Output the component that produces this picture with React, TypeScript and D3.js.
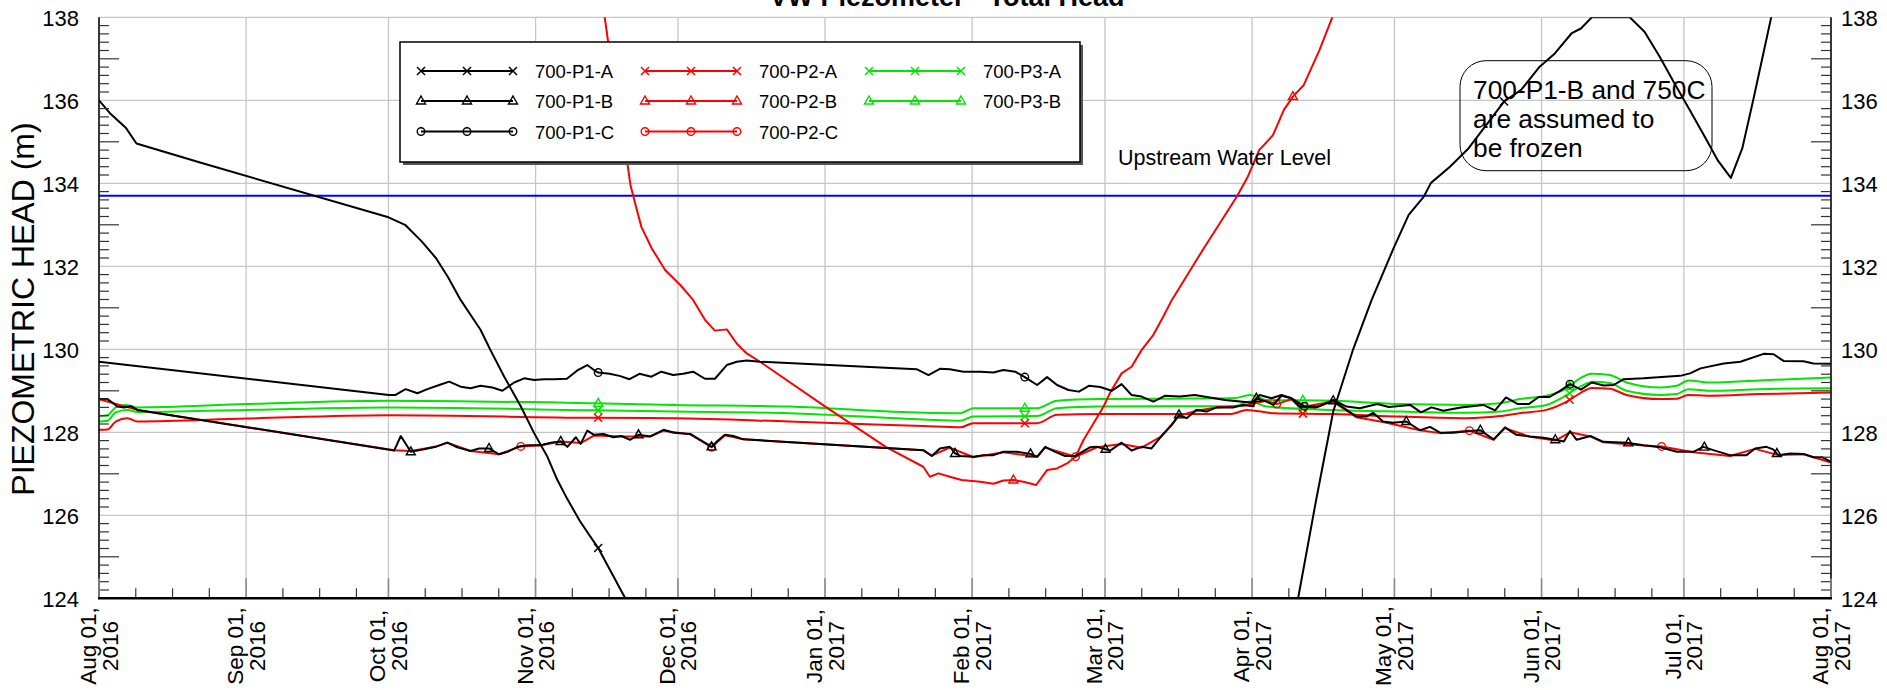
import React from "react";
import * as d3 from "d3";

const W = 1887;
const H = 690;
const PL = 99, PR = 1831, PT = 17.3, PB = 598.3;
const DAY = 86400000;
const START = Date.UTC(2016, 7, 1);
const END = Date.UTC(2017, 7, 1);
const FONT = "'Liberation Sans', Arial, Helvetica, sans-serif";

type Pt = [number, number]; // [days since Aug 01 2016, head (m)]

const Y_TICKS = [124, 126, 128, 130, 132, 134, 136, 138];
const UPSTREAM_LEVEL = 133.7;
const TITLE = "VW Piezometer - Total Head";
const Y_TITLE = "PIEZOMETRIC HEAD (m)";
const NOTE_LINES = ["700-P1-B and 750C", "are assumed to", "be frozen"];

const P1A: Pt[] = [
  [0, 136.0], [2.3, 135.69], [5.7, 135.33], [7.9, 134.96], [21.3, 134.5], [61, 133.18], [64.5, 133.0], [68, 132.6],
  [71, 132.2], [73.5, 131.75], [76.2, 131.19], [80.4, 130.47], [82.5, 129.98], [85.4, 129.34], [88.9, 128.62],
  [91.7, 127.98], [94.5, 127.41], [96.6, 126.85], [98.7, 126.39], [101.4, 125.85], [105.2, 125.21], [110.9, 124.0],
  [252.7, 124.0], [256.5, 126.37], [260.1, 128.5], [264.3, 130.0], [268.2, 131.19], [272.8, 132.43], [276, 133.24],
  [279.2, 133.68], [280.7, 134.01], [284.7, 134.4], [288.6, 134.84], [296.1, 135.97], [299.7, 136.25], [303.6, 136.81],
  [306.8, 137.13], [310.3, 137.61], [312.3, 137.73], [314.6, 138.0], [322.6, 138.0], [325.7, 137.65], [328.9, 137.05],
  [332, 136.41], [335.2, 135.77], [338.4, 135.12], [341.1, 134.56], [343.9, 134.13], [346.3, 134.84], [348.6, 136.0],
  [352.4, 138.0], [355, 139.2],
];
const P1A_MARKS = [105.2, 296.1];

const P1B: Pt[] = [
  [0, 128.8], [1.8, 128.8], [3.9, 128.62], [5.3, 128.6], [6.7, 128.63], [8.1, 128.54], [62.2, 127.56], [63.6, 127.91],
  [65.7, 127.53], [68.5, 127.59], [70.9, 127.65], [73.4, 127.75], [75.5, 127.64], [78.3, 127.55], [80.1, 127.61],
  [82.2, 127.61], [84.3, 127.47], [86.1, 127.53], [88.2, 127.65], [90.3, 127.69], [93.1, 127.69], [95.2, 127.75],
  [97.3, 127.78], [98.7, 127.65], [100.5, 127.88], [101.5, 127.72], [102.9, 128.04], [104.3, 127.94], [106.3, 127.96],
  [108.4, 127.88], [110.1, 127.91], [111.9, 127.82], [113.7, 127.94], [116.2, 127.9], [119.0, 128.06], [121.1, 127.99],
  [124.6, 127.96], [126.7, 127.82], [129.1, 127.65], [130.2, 127.78], [131.9, 127.94], [133.7, 127.91], [135.8, 127.83],
  [173.7, 127.57], [175.5, 127.43], [177.2, 127.61], [179.3, 127.65], [180.4, 127.49], [181.5, 127.43], [184.3, 127.41],
  [186.4, 127.45], [188.5, 127.45], [190.6, 127.53], [193.4, 127.53], [196.3, 127.48], [197.7, 127.41], [199.4, 127.65],
  [201.5, 127.53], [203.6, 127.43], [205.8, 127.43], [207.2, 127.53], [208.9, 127.64], [210.3, 127.65], [213.1, 127.56],
  [215.5, 127.75], [217.6, 127.56], [219.7, 127.65], [221.8, 127.61], [223.9, 127.91], [226.1, 128.18], [227.6, 128.42],
  [229.2, 128.34], [231.3, 128.54], [233.4, 128.5], [235.5, 128.6], [239.1, 128.6], [241.1, 128.66], [243.3, 128.63],
  [243.9, 128.82], [246.0, 128.74], [247.5, 128.66], [249.2, 128.88], [251.3, 128.82], [253.0, 128.62], [256.5, 128.6],
  [260.1, 128.76], [262.9, 128.54], [265.0, 128.38], [267.1, 128.38], [268.5, 128.47], [270.6, 128.26], [272.7, 128.23],
  [275.5, 128.26], [278.4, 128.05], [280.5, 128.13], [282.6, 127.99], [285.4, 127.99], [288.9, 128.03], [291.1, 128.05],
  [293.9, 127.83], [296.3, 128.12], [298.7, 127.94], [301.6, 127.9], [304.4, 127.87], [306.9, 127.82], [308.7, 127.78],
  [310.0, 128.03], [311.4, 127.82], [314.3, 127.91], [317.0, 127.77], [322.0, 127.75], [325.5, 127.69], [329.0, 127.64],
  [332.5, 127.53], [336.0, 127.53], [338.1, 127.65], [340.2, 127.57], [343.7, 127.45], [347.2, 127.45], [349.0, 127.61],
  [351.4, 127.65], [352.8, 127.59], [353.9, 127.45], [356.4, 127.49], [359.2, 127.48], [361.3, 127.4], [363.1, 127.4],
  [365, 127.29],
];
const P1B_MARKS = [65.7, 82.2, 97.3, 113.7, 129.1, 180.4, 196.3, 212.1, 227.6, 243.9, 260.1, 275.5, 291.1, 306.9, 322.3, 338.3, 353.6];

const P1C: Pt[] = [
  [0, 129.7], [61.1, 128.9], [62.5, 128.9], [64.6, 129.04], [67.1, 128.94], [69.2, 129.04], [71.7, 129.14], [73.8, 129.22],
  [76.2, 129.1], [78.3, 129.06], [80.4, 129.12], [82.9, 129.08], [85.0, 129.0], [87.5, 129.2], [89.6, 129.3], [91.7, 129.26],
  [93.8, 129.28], [95.9, 129.28], [98.6, 129.29], [100.8, 129.49], [102.9, 129.62], [104.3, 129.5], [105.2, 129.44],
  [107.6, 129.41], [109.7, 129.36], [111.8, 129.28], [113.9, 129.41], [116.4, 129.34], [118.5, 129.46], [121.0, 129.38],
  [123.1, 129.41], [125.2, 129.46], [127.7, 129.29], [129.8, 129.29], [132.3, 129.62], [134.4, 129.7], [136.5, 129.73],
  [139.3, 129.7], [172.3, 129.52], [174.8, 129.38], [177.2, 129.53], [179.3, 129.52], [182.2, 129.46], [185.7, 129.46],
  [188.5, 129.44], [190.6, 129.5], [193.1, 129.46], [195.1, 129.33], [197.7, 129.14], [199.8, 129.33], [201.9, 129.14],
  [204.3, 129.02], [206.5, 128.98], [208.6, 129.12], [211.0, 129.09], [213.4, 129.0], [215.5, 129.16], [217.6, 128.9],
  [219.7, 128.86], [222.2, 128.74], [224.6, 128.88], [227.8, 128.86], [230.9, 128.9], [234.1, 128.84], [237.3, 128.78],
  [240.5, 128.74], [243.0, 128.71], [244.6, 128.9], [247.1, 128.82], [249.2, 128.9], [251.3, 128.82], [254.0, 128.63],
  [257, 128.62], [260.1, 128.78], [262.9, 128.62], [265.7, 128.58], [269.4, 128.68], [271.8, 128.61], [276.3, 128.66],
  [278.6, 128.48], [280.8, 128.6], [283.3, 128.52], [287, 128.6], [291.7, 128.66], [294.2, 128.53], [296.5, 128.84],
  [299, 128.68], [301.3, 128.68], [303.4, 128.85], [305.6, 128.85], [307.9, 129.0], [310.0, 129.16], [312.3, 129.03],
  [314.6, 129.2], [317.1, 129.13], [319.2, 129.14], [321.3, 129.28], [325.5, 129.3], [333.2, 129.36], [335.3, 129.42],
  [337.5, 129.54], [342.4, 129.66], [345.9, 129.7], [350.8, 129.89], [352.9, 129.88], [355.0, 129.72], [359.2, 129.71],
  [361.3, 129.66], [365, 129.65],
];
const P1C_MARKS = [105.2, 195.1, 254.0, 310.0];

const P2A: Pt[] = [
  [0, 128.06], [1.8, 128.07], [3.5, 128.26], [6, 128.34], [8.1, 128.26], [31, 128.33], [61, 128.41], [104, 128.35],
  [121.1, 128.34], [145.4, 128.26], [173.7, 128.15], [181.5, 128.12], [184.3, 128.22], [197.7, 128.22], [201.9, 128.42],
  [211, 128.44], [238.4, 128.44], [241.9, 128.54], [247.5, 128.46], [260.1, 128.44], [274.2, 128.38], [288.2, 128.34],
  [295.2, 128.39], [299.4, 128.46], [305, 128.54], [309.3, 128.74], [312.1, 128.94], [314.6, 129.07], [318.4, 129.05],
  [321.9, 128.9], [329, 128.8], [332.5, 128.81], [334.9, 128.9], [339.5, 128.88], [350, 128.92], [365, 128.96],
];
const P2A_MARKS = [105.2, 195.1, 253.7, 309.9];

const P2B: Pt[] = [
  [106.2, 138.3], [107.3, 137.41], [111.3, 134.52], [112.0, 133.96], [112.8, 133.6], [114.3, 132.95], [116.5, 132.43],
  [119.3, 131.91], [122.5, 131.55], [125.2, 131.19], [127.7, 130.71], [129.8, 130.45], [132.3, 130.48], [134.4, 130.14],
  [136.5, 129.9], [139.3, 129.7], [152.9, 128.63], [165.8, 127.65], [173.7, 127.17], [175.1, 126.93], [176.9, 127.01],
  [179.3, 126.93], [181.8, 126.85], [185.7, 126.81], [188.5, 126.76], [190.6, 126.84], [192.7, 126.85], [194.8, 126.81],
  [197.5, 126.73], [199.8, 127.09], [201.9, 127.13], [204.0, 127.25], [205.8, 127.41], [207.5, 127.82], [209.6, 128.22],
  [211.7, 128.62], [213.1, 128.96], [215.5, 129.42], [217.6, 129.58], [219.7, 129.98], [222.2, 130.35], [224.3, 130.79],
  [226.1, 131.19], [232.8, 132.43], [239.8, 133.68], [242.1, 134.16], [244.5, 134.8], [247.4, 135.16], [249.7, 135.77],
  [251.6, 136.09], [253.9, 136.37], [257.2, 137.21], [259.9, 138.0], [261, 138.3],
];
const P2B_MARKS = [192.7, 251.6];

const P2C: Pt[] = [
  [0, 128.8], [8.1, 128.54], [62.2, 127.57], [65.7, 127.55], [70.9, 127.65], [73.4, 127.75], [78.3, 127.55], [84.3, 127.47],
  [88.9, 127.66], [93.1, 127.69], [97.3, 127.78], [101.5, 127.74], [104.3, 127.92], [110.1, 127.9], [116.2, 127.9],
  [119, 128.04], [124.6, 127.95], [129.1, 127.64], [131.9, 127.93], [135.8, 127.83], [173.7, 127.57], [175.5, 127.44],
  [179.3, 127.63], [184.3, 127.4], [190.6, 127.52], [197.7, 127.41], [199.4, 127.63], [205.8, 127.41], [210.3, 127.64],
  [215.5, 127.72], [219.7, 127.63], [223.9, 127.9], [227.6, 128.4], [231.3, 128.52], [235.5, 128.6], [241.1, 128.64],
  [246, 128.76], [248.2, 128.68], [251.3, 128.8], [253, 128.6], [260.1, 128.74], [265, 128.36], [270.6, 128.25],
  [278.4, 128.05], [282.6, 127.98], [288.8, 128.04], [293.9, 127.82], [296.3, 128.1], [301.6, 127.89], [306.9, 127.8],
  [310, 128.0], [314.3, 127.9], [317, 127.76], [325.5, 127.68], [329.3, 127.66], [336, 127.52], [343.7, 127.43],
  [349, 127.6], [353.9, 127.45], [359.2, 127.47], [365, 127.27],
];
const P2C_MARKS = [88.9, 129.1, 205.8, 248.2, 288.8, 329.3];

const P3A: Pt[] = [
  [0, 128.26], [1.8, 128.28], [3.5, 128.48], [6, 128.54], [8.1, 128.49], [31, 128.54], [61, 128.6], [104, 128.53],
  [121.1, 128.5], [145.4, 128.46], [173.7, 128.31], [181.5, 128.28], [184.3, 128.38], [197.7, 128.39], [201.9, 128.58],
  [211, 128.62], [239.1, 128.63], [242.6, 128.74], [246.1, 128.62], [260.1, 128.54], [274.2, 128.5], [288.2, 128.47],
  [295.2, 128.5], [299.4, 128.58], [305, 128.66], [309.3, 128.9], [312.1, 129.1], [314.9, 129.22], [318.4, 129.19],
  [321.9, 129.0], [329, 128.9], [332.5, 128.92], [334.9, 129.04], [339.5, 129.0], [350, 129.04], [365, 129.06],
];
const P3A_MARKS = [105.2, 195.1, 253.7, 309.9];

const P3B: Pt[] = [
  [0, 128.39], [1.8, 128.41], [3.5, 128.6], [5.6, 128.66], [8.1, 128.6], [31, 128.68], [61, 128.76], [104, 128.7],
  [121.1, 128.66], [145.4, 128.62], [173.7, 128.47], [181.5, 128.46], [184.3, 128.58], [197.7, 128.58], [201.9, 128.76],
  [211, 128.8], [239.1, 128.82], [242.6, 128.9], [246.1, 128.78], [260.1, 128.76], [274.2, 128.68], [288.2, 128.66],
  [295.2, 128.7], [299.4, 128.8], [305, 128.88], [309.3, 129.06], [312.1, 129.3], [314.6, 129.41], [318.4, 129.38],
  [321.9, 129.2], [329, 129.08], [332.5, 129.12], [334.9, 129.25], [339.5, 129.2], [350, 129.25], [365, 129.32],
];
const P3B_MARKS = [105.2, 195.1, 253.7, 309.9];

type Marker = "x" | "tri" | "circ";
interface Series { name: string; color: string; marker: Marker; data: Pt[]; marks: number[]; smooth: boolean; col: number; row: number; }

const BLACK = "#000000", RED = "#ff0000", GREEN = "#00e600";

const SERIES: Series[] = [
  { name: "700-P1-A", color: BLACK, marker: "x", data: P1A, marks: P1A_MARKS, smooth: false, col: 0, row: 0 },
  { name: "700-P1-B", color: BLACK, marker: "tri", data: P1B, marks: P1B_MARKS, smooth: false, col: 0, row: 1 },
  { name: "700-P1-C", color: BLACK, marker: "circ", data: P1C, marks: P1C_MARKS, smooth: false, col: 0, row: 2 },
  { name: "700-P2-A", color: RED, marker: "x", data: P2A, marks: P2A_MARKS, smooth: true, col: 1, row: 0 },
  { name: "700-P2-B", color: RED, marker: "tri", data: P2B, marks: P2B_MARKS, smooth: false, col: 1, row: 1 },
  { name: "700-P2-C", color: RED, marker: "circ", data: P2C, marks: P2C_MARKS, smooth: false, col: 1, row: 2 },
  { name: "700-P3-A", color: GREEN, marker: "x", data: P3A, marks: P3A_MARKS, smooth: true, col: 2, row: 0 },
  { name: "700-P3-B", color: GREEN, marker: "tri", data: P3B, marks: P3B_MARKS, smooth: true, col: 2, row: 1 },
];
const DRAW_ORDER = ["700-P3-B", "700-P3-A", "700-P2-C", "700-P2-A", "700-P2-B", "700-P1-C", "700-P1-B", "700-P1-A"];

const xScale = d3.scaleUtc().domain([new Date(START), new Date(END)]).range([PL, PR]);
const yScale = d3.scaleLinear().domain([124, 138]).range([PB, PT]);
const dayToDate = (d: number) => new Date(START + d * DAY);
const X = (d: number) => xScale(dayToDate(d));
const Y = (v: number) => yScale(v);

function valueAt(data: Pt[], day: number): number {
  const i = d3.bisector((p: Pt) => p[0]).left(data, day);
  if (i <= 0) return data[0][1];
  if (i >= data.length) return data[data.length - 1][1];
  const a = data[i - 1], b = data[i];
  const t = (day - a[0]) / (b[0] - a[0]);
  return a[1] + t * (b[1] - a[1]);
}

function MarkerGlyph({ type, x, y, color }: { type: Marker; x: number; y: number; color: string }) {
  if (type === "x") {
    const s = 4;
    return (
      <path d={`M${x - s},${y - s}L${x + s},${y + s}M${x - s},${y + s}L${x + s},${y - s}`} stroke={color} strokeWidth={1.5} fill="none" />
    );
  }
  if (type === "tri") {
    return (
      <path d={`M${x},${y - 5}L${x + 4.5},${y + 3}L${x - 4.5},${y + 3}Z`} stroke={color} strokeWidth={1.4} fill="none" />
    );
  }
  return <circle cx={x} cy={y} r={3.8} stroke={color} strokeWidth={1.4} fill="none" />;
}

export default function App() {
  const months = d3.utcMonth.range(new Date(START), new Date(END + DAY));
  const fmt1 = d3.utcFormat("%b %d,");
  const fmt2 = d3.utcFormat("%Y");

  const minorX: number[] = [];
  months.forEach((m, i) => {
    if (i === months.length - 1) return;
    const next = months[i + 1].getTime();
    for (let k = 1; k <= 3; k++) {
      const t = m.getTime() + k * 7.75 * DAY;
      if (t < next) minorX.push(xScale(new Date(t)));
    }
  });

  const yMinor: { v: number; len: number }[] = [];
  for (let i = 0; i <= 70; i++) {
    const r = Math.round((124 + i * 0.2) * 10) / 10;
    if (Math.abs(r - Math.round(r)) < 1e-6) {
      const n = Math.round(r);
      if (n % 2 === 0) continue;
      yMinor.push({ v: r, len: 20 });
    } else yMinor.push({ v: r, len: 10 });
  }

  const lineLinear = d3.line<Pt>().x((p) => X(p[0])).y((p) => Y(p[1]));
  const lineSmooth = d3.line<Pt>().x((p) => X(p[0])).y((p) => Y(p[1])).curve(d3.curveMonotoneX);

  const ordered = DRAW_ORDER.map((n) => SERIES.find((s) => s.name === n)!) as Series[];

  const legX0 = [421, 645, 869];
  const legRowY = [71, 101, 131.5];

  return (
    <svg width={W} height={H} style={{ position: "absolute", left: 0, top: 0, background: "#fff" }} fontFamily={FONT}>
      <defs>
        <clipPath id="plotClip">
          <rect x={PL} y={PT} width={PR - PL} height={PB - PT} />
        </clipPath>
      </defs>
      <rect x={0} y={0} width={W} height={H} fill="#fff" />

      {/* gridlines */}
      {months.map((m, i) => (
        <line key={"gx" + i} x1={xScale(m)} x2={xScale(m)} y1={PT} y2={PB} stroke="#c6c6c6" strokeWidth={1.3} />
      ))}
      {Y_TICKS.map((v) => (
        <line key={"gy" + v} x1={PL} x2={PR} y1={Y(v)} y2={Y(v)} stroke="#c6c6c6" strokeWidth={1.3} />
      ))}

      {/* upstream water level */}
      <line x1={PL} x2={PR} y1={Y(UPSTREAM_LEVEL)} y2={Y(UPSTREAM_LEVEL)} stroke="#0000ff" strokeWidth={2.2} />

      {/* series */}
      <g clipPath="url(#plotClip)">
        {ordered.map((s) => (
          <g key={s.name}>
            <path d={(s.smooth ? lineSmooth : lineLinear)(s.data) || ""} fill="none" stroke={s.color} strokeWidth={2} strokeLinejoin="round" />
            {s.marks.map((d, j) => (
              <MarkerGlyph key={j} type={s.marker} x={X(d)} y={Y(valueAt(s.data, d))} color={s.color} />
            ))}
          </g>
        ))}
      </g>

      {/* axes */}
      <line x1={PL} x2={PL} y1={PT} y2={PB} stroke="#000" strokeWidth={1.5} />
      <line x1={PR} x2={PR} y1={PT} y2={PB} stroke="#000" strokeWidth={1.5} />
      {yMinor.map((t, i) => (
        <g key={"ym" + i}>
          <line x1={PL} x2={PL + t.len} y1={Y(t.v)} y2={Y(t.v)} stroke="#333" strokeWidth={1.2} />
          <line x1={PR} x2={PR - t.len} y1={Y(t.v)} y2={Y(t.v)} stroke="#333" strokeWidth={1.2} />
        </g>
      ))}
      {minorX.map((x, i) => (
        <line key={"xm" + i} x1={x} x2={x} y1={PB} y2={PB - 10} stroke="#333" strokeWidth={1.2} />
      ))}
      {months.map((m, i) => (
        <line key={"xM" + i} x1={xScale(m)} x2={xScale(m)} y1={PB} y2={PB - 20} stroke="#8a8a8a" strokeWidth={1.6} />
      ))}
      <line x1={PL - 1} x2={PR + 1} y1={PB} y2={PB} stroke="#000" strokeWidth={2.5} />

      {/* y tick labels */}
      {Y_TICKS.map((v) => (
        <g key={"yl" + v} fontSize={22} fill="#000">
          <text x={79} y={Y(v) + 8.6} textAnchor="end">{v}</text>
          <text x={1841} y={Y(v) + 8.6} textAnchor="start">{v}</text>
        </g>
      ))}

      {/* x tick labels */}
      {months.map((m, i) => {
        const x = xScale(m);
        return (
          <g key={"xl" + i} fontSize={22.5} fill="#000">
            <text transform={`translate(${x - 3},646) rotate(-90)`} textAnchor="middle">{fmt1(m)}</text>
            <text transform={`translate(${x + 18.5},646) rotate(-90)`} textAnchor="middle">{fmt2(m)}</text>
          </g>
        );
      })}

      {/* y axis title */}
      <text transform={`translate(34,309) rotate(-90)`} textAnchor="middle" fontSize={32} fill="#000">{Y_TITLE}</text>

      {/* title */}
      <text x={947} y={6} textAnchor="middle" fontSize={27} fontWeight="bold" fill="#000">{TITLE}</text>

      {/* upstream label */}
      <text x={1118} y={165} fontSize={21.5} fill="#000">Upstream Water Level</text>

      {/* annotation */}
      <rect x={1460} y={60.7} width={252} height={110} rx={26} ry={26} fill="none" stroke="#000" strokeWidth={1} />
      {NOTE_LINES.map((t, i) => (
        <text key={"n" + i} x={1473} y={99 + i * 29} fontSize={26.3} fill="#000">{t}</text>
      ))}

      {/* legend */}
      <rect x={403} y={45} width={680} height={120} fill="#555" />
      <rect x={400} y={42} width={680} height={120} fill="#fff" stroke="#000" strokeWidth={1.5} />
      {SERIES.map((s) => {
        const x0 = legX0[s.col];
        const y0 = legRowY[s.row];
        return (
          <g key={"lg" + s.name}>
            <line x1={x0} x2={x0 + 92} y1={y0} y2={y0} stroke={s.color} strokeWidth={2} />
            {[0, 46, 92].map((dx) => (
              <MarkerGlyph key={dx} type={s.marker} x={x0 + dx} y={y0} color={s.color} />
            ))}
            <text x={x0 + 114} y={y0 + 7} fontSize={18.5} fill="#000">{s.name}</text>
          </g>
        );
      })}
    </svg>
  );
}
